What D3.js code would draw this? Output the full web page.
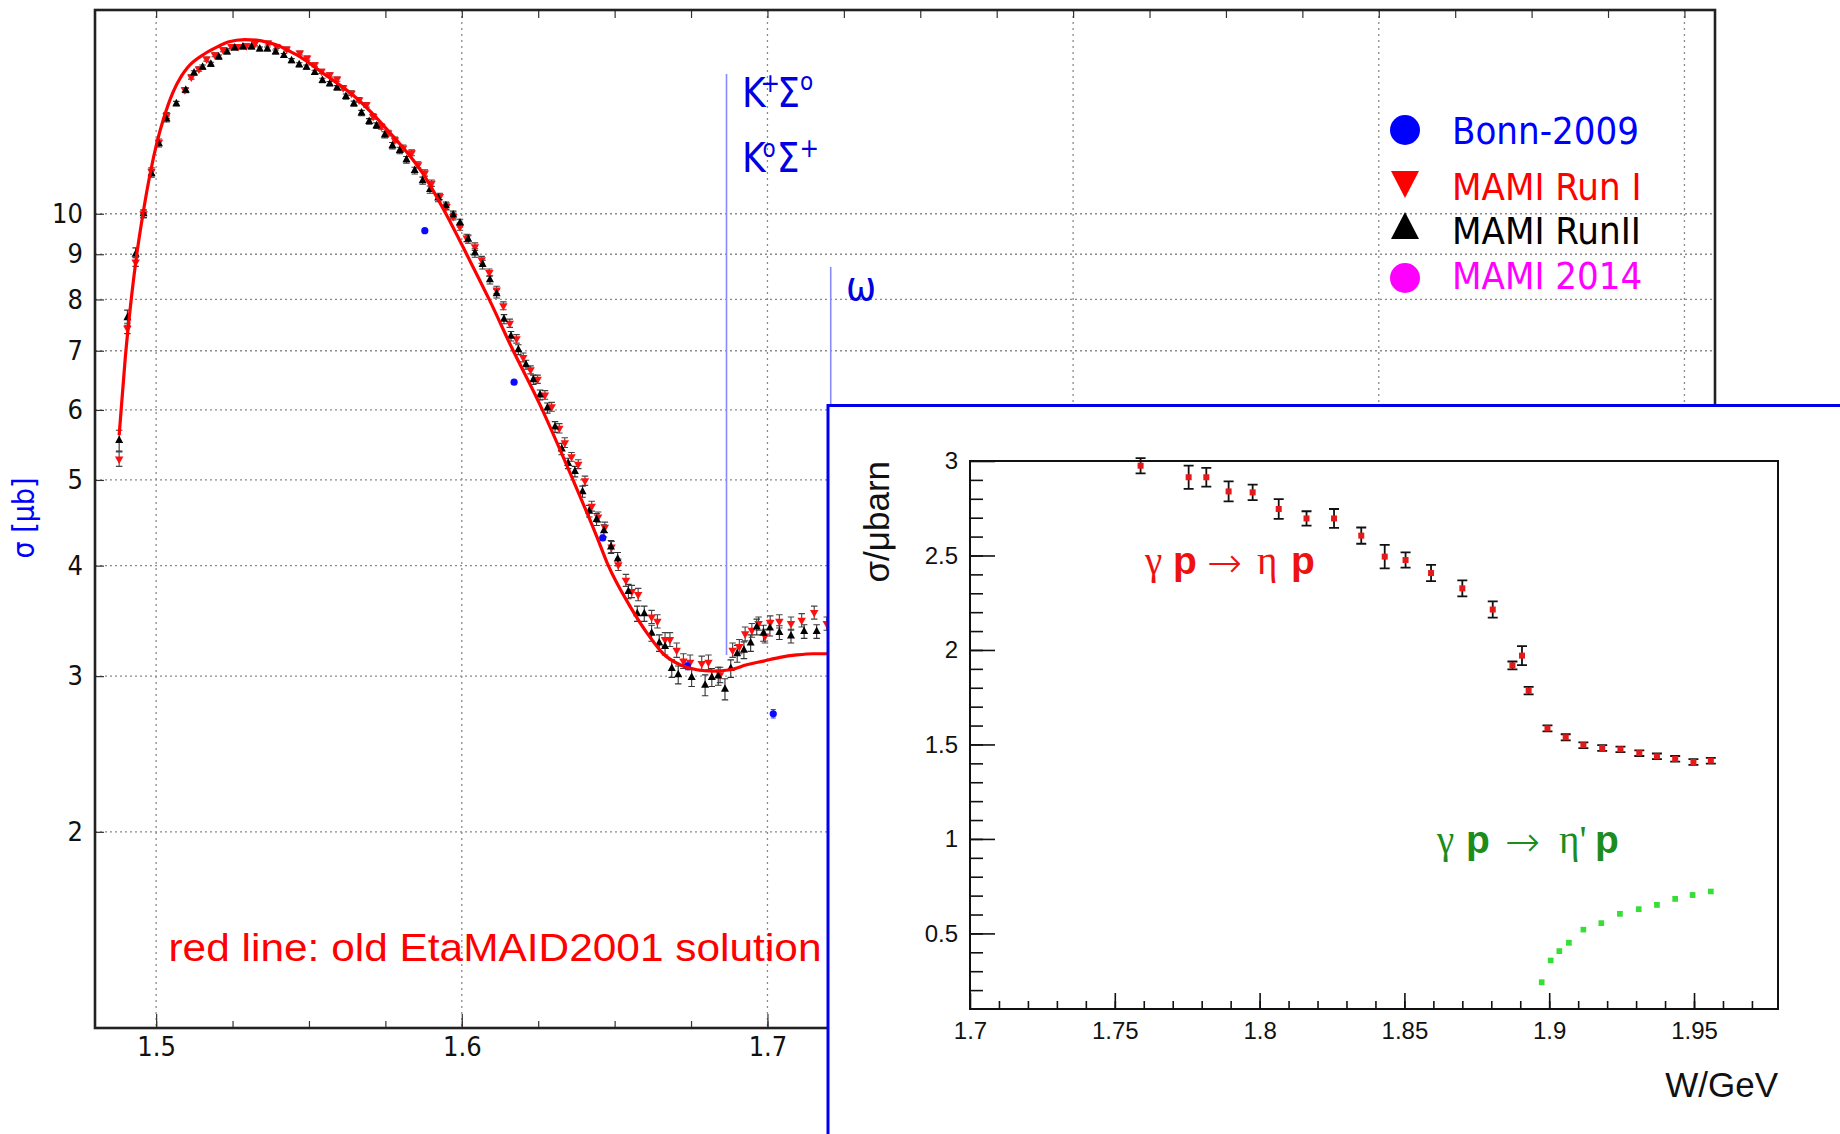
<!DOCTYPE html>
<html>
<head>
<meta charset="utf-8">
<script src="https://cdn.jsdelivr.net/npm/d3@7"></script>
<style>
  body { margin: 0; background: #fff; }
  svg { display: block; }
</style>
</head>
<body>
<svg id="chart" width="1840" height="1134"></svg>
<script>
/* ── data: main plot (W in GeV, sigma in microbarn) ─────────── */

// MAMI Run II (black up-triangles)
const runIIW = [1.4879,1.4906,1.4933,1.4959,1.4985,1.5009,1.5034,1.5066,1.5097,1.5124,
  1.5152,1.5179,1.5205,1.5232,1.5257,1.5284,1.5312,1.5339,1.5364,1.5391,
  1.5418,1.5443,1.5468,1.5492,1.5519,1.5544,1.5568,1.5592,1.5621,1.5647,
  1.5672,1.5697,1.5721,1.5748,1.5773,1.5797,1.5819,1.5846,1.5872,1.5896,
  1.5923,1.5948,1.5972,1.5994,1.6021,1.6043,1.6068,1.6092,1.6114,1.6138,
  1.6161,1.6185,1.621,1.6234,1.6256,1.628,1.6305,1.6327,1.6348,1.637,
  1.6395,1.6417,1.6441,1.6465,1.6488,1.651,1.6545,1.6574,1.6597,1.6621,
  1.6646,1.6665,1.6687,1.6708,1.6752,1.6796,1.6818,1.6839,1.6861,1.688,
  1.6901,1.6923,1.6945,1.6965,1.6987,1.7008,1.7039,1.7077,1.712,1.7161];
const runIISig = [5.54,7.63,9.0,10.0,11.1,12.0,12.8,13.32,13.79,14.43,
  14.65,14.76,15.04,15.24,15.4,15.44,15.44,15.36,15.36,15.24,
  15.1,14.9,14.74,14.65,14.45,14.15,14.03,13.88,13.57,13.32,
  13.0,12.72,12.58,12.28,11.94,11.79,11.51,11.19,10.9,10.65,
  10.42,10.21,9.97,9.76,9.36,9.03,8.76,8.42,8.12,7.6,
  7.27,7.02,6.75,6.49,6.24,6.03,5.74,5.42,5.22,5.11,
  4.85,4.61,4.51,4.38,4.20,4.07,3.74,3.53,3.53,3.355,
  3.27,3.24,3.06,3.01,2.99,2.93,2.99,3.00,2.90,3.06,
  3.18,3.21,3.27,3.41,3.355,3.40,3.36,3.33,3.37,3.37];
const runIIErr = [0.15,0.15,0.15,0.1,0.1,0.1,0.1,0.08,0.08,0.08,
  0.08,0.08,0.08,0.08,0.08,0.08,0.08,0.08,0.08,0.08,
  0.08,0.08,0.08,0.08,0.08,0.08,0.08,0.08,0.09,0.09,
  0.09,0.09,0.09,0.1,0.1,0.1,0.1,0.1,0.1,0.1,
  0.1,0.1,0.1,0.1,0.1,0.1,0.1,0.09,0.09,0.09,
  0.09,0.09,0.08,0.08,0.08,0.08,0.08,0.08,0.07,0.07,
  0.07,0.07,0.07,0.07,0.07,0.07,0.07,0.07,0.07,0.07,
  0.07,0.07,0.07,0.07,0.07,0.08,0.07,0.07,0.08,0.07,
  0.07,0.07,0.07,0.07,0.07,0.07,0.06,0.06,0.06,0.06];

// MAMI Run I (red down-triangles)
const runIW = [1.4879,1.4906,1.4933,1.4959,1.4985,1.5009,1.5034,1.5094,1.5115,1.514,
  1.5165,1.5192,1.5219,1.5246,1.5268,1.5295,1.5323,1.5366,1.5394,1.5427,
  1.547,1.5494,1.5519,1.5541,1.5568,1.5592,1.5612,1.5639,1.5664,1.5688,
  1.571,1.5737,1.5759,1.5781,1.5808,1.5836,1.5857,1.5879,1.5901,1.5928,
  1.595,1.5972,1.5994,1.6016,1.6043,1.6065,1.609,1.6114,1.6136,1.6157,
  1.6179,1.6201,1.6225,1.6248,1.6272,1.6294,1.6319,1.6337,1.6359,1.6381,
  1.6403,1.6425,1.6446,1.6468,1.649,1.6512,1.6537,1.6556,1.6577,1.6621,
  1.664,1.6665,1.6681,1.6703,1.6725,1.6747,1.6785,1.6807,1.6845,1.6886,
  1.6908,1.6927,1.6949,1.6971,1.6992,1.7009,1.7039,1.7077,1.7112,1.7153,1.7194];
const runISig = [5.28,7.42,8.82,10.0,11.17,12.05,12.92,13.81,14.28,14.58,
  14.96,15.13,15.33,15.46,15.46,15.49,15.57,15.6,15.46,15.36,
  15.2,15.0,14.74,14.49,14.36,14.2,13.88,13.69,13.45,13.28,
  12.88,12.55,12.34,12.12,11.87,11.72,11.36,11.12,10.83,10.46,
  10.19,9.93,9.67,9.39,9.18,8.87,8.58,8.2,7.87,7.52,
  7.22,6.88,6.66,6.5,6.24,6.05,5.72,5.51,5.31,5.21,
  4.99,4.67,4.54,4.42,4.2,4.01,3.85,3.74,3.71,3.5,
  3.46,3.3,3.3,3.21,3.12,3.11,3.1,3.11,3.01,3.21,
  3.24,3.35,3.38,3.44,3.33,3.45,3.46,3.44,3.47,3.54,3.44];
const runIErr = [0.1,0.1,0.1,0.1,0.1,0.1,0.1,0.08,0.08,0.08,
  0.08,0.08,0.08,0.08,0.08,0.08,0.08,0.08,0.08,0.08,
  0.08,0.08,0.08,0.08,0.08,0.08,0.08,0.08,0.08,0.08,
  0.09,0.09,0.09,0.09,0.09,0.09,0.09,0.09,0.09,0.09,
  0.09,0.09,0.09,0.09,0.09,0.08,0.08,0.08,0.08,0.08,
  0.08,0.08,0.07,0.07,0.07,0.07,0.07,0.07,0.06,0.06,
  0.06,0.06,0.06,0.06,0.06,0.06,0.06,0.06,0.06,0.06,
  0.06,0.06,0.06,0.06,0.06,0.06,0.06,0.06,0.06,0.06,
  0.06,0.06,0.06,0.06,0.06,0.06,0.06,0.06,0.06,0.06,0.06];

// Bonn-2009 (blue dots)
const bonnW   = [1.5879, 1.6171, 1.6461, 1.6738, 1.7019];
const bonnSig = [9.57, 6.45, 4.30, 3.08, 2.72];
const bonnErr = [0.0, 0.0, 0.03, 0.03, 0.03];

// EtaMAID2001 solution (red line)
const maidW = [1.4879,1.4899,1.4919,1.4935,1.4957,1.4982,1.5003,1.5025,1.5055,
  1.5083,1.5103,1.5159,1.5203,1.5235,1.529,1.5334,1.5366,1.5399,1.5432,
  1.547,1.5546,1.5656,1.5765,1.5873,1.5948,1.602,1.6092,1.6164,1.6256,
  1.6364,1.6441,1.6478,1.655,1.6605,1.6659,1.6714,1.6769,1.6823,1.6878,
  1.6932,1.6987,1.7041,1.7096,1.715,1.7205];
const maidSig = [5.62,6.87,8.03,8.91,10.0,11.17,12.05,12.83,13.72,
  14.32,14.64,15.17,15.46,15.64,15.74,15.71,15.62,15.5,15.3,
  15.06,14.42,13.51,12.35,11.1,10.0,8.94,7.97,7.05,6.08,
  5.0,4.32,4.01,3.6,3.36,3.18,3.09,3.05,3.04,3.05,
  3.09,3.12,3.15,3.17,3.18,3.18];

const mainXTicks = [1.5, 1.6, 1.7, 1.8, 1.9, 2.0];
const mainYTicks = [2, 3, 4, 5, 6, 7, 8, 9, 10];
const thresholds = [1.6866, 1.7207];   // K+Σ0 / K0Σ+ and ω thresholds

const legendNames  = ["Bonn-2009", "MAMI Run I", "MAMI RunII", "MAMI 2014"];
const legendColors = ["#0000ff", "#ff0000", "#000000", "#ff00ff"];
const legendShapes = ["circle", "down", "up", "circle"];

/* ── data: inset ───────────────────────────────────────────── */

const etaW   = [1.7589,1.7755,1.7816,1.7893,1.7976,1.8066,1.8162,1.8257,1.8351,1.8432,
  1.8504,1.8592,1.87,1.8805,1.8873,1.8906,1.8929,1.8994,1.9057,1.9118,
  1.9183,1.9246,1.9311,1.9372,1.9435,1.9498,1.9558];
const etaSig = [2.975,2.914,2.914,2.839,2.834,2.746,2.696,2.696,2.605,2.494,
  2.476,2.407,2.326,2.214,1.918,1.970,1.785,1.585,1.538,1.496,
  1.481,1.474,1.454,1.437,1.424,1.407,1.414];
const etaErr = [0.04,0.062,0.05,0.053,0.041,0.052,0.038,0.05,0.043,0.062,
  0.04,0.043,0.042,0.043,0.021,0.05,0.02,0.016,0.016,0.015,
  0.015,0.015,0.015,0.015,0.015,0.015,0.015];

const etapW   = [1.8974,1.9005,1.9035,1.9068,1.9118,1.918,1.9244,1.9309,1.9372,1.9435,1.9495,1.9558];
const etapSig = [0.241,0.357,0.406,0.451,0.520,0.554,0.604,0.628,0.651,0.683,0.703,0.722];
const etapErr = [0.01,0.01,0.01,0.01,0.01,0.01,0.01,0.01,0.01,0.01,0.01,0.01];

const insetXTicks = [1.7, 1.75, 1.8, 1.85, 1.9, 1.95];
const insetYTicks = [0.5, 1, 1.5, 2, 2.5, 3];

/* ── setup ─────────────────────────────────────────────────── */

const FONT_DV = "'DejaVu Sans Condensed','DejaVu Sans',sans-serif";
const FONT_HV = "'Liberation Sans',Arial,Helvetica,sans-serif";
const FONT_SY = "'Liberation Serif','DejaVu Serif',serif";

const svg = d3.select("#chart");

const x = d3.scaleLinear().domain([1.48, 2.01]).range([95, 1715]);
const y = d3.scaleLog().domain([1.2, 17]).range([1028, 10]);

const [X0, X1] = x.range();
const [Y1, Y0] = y.range();

function triPath(cx, cy, w, h, up) {
  if (up) return `M${cx},${cy - h * 2 / 3}L${cx + w / 2},${cy + h / 3}L${cx - w / 2},${cy + h / 3}Z`;
  return `M${cx},${cy + h * 2 / 3}L${cx + w / 2},${cy - h / 3}L${cx - w / 2},${cy - h / 3}Z`;
}

function errorBars(g, W, S, E, sx, sy, cap, color, width) {
  const pts = W.map((w, i) => ({ w, s: S[i], e: E[i] })).filter(d => d.e > 0);
  const eg = g.append("g").attr("stroke", color).attr("stroke-width", width).attr("fill", "none");
  eg.selectAll("path").data(pts).join("path")
    .attr("d", d => {
      const cx = sx(d.w), ya = sy(d.s - d.e), yb = sy(d.s + d.e);
      return `M${cx},${ya}V${yb}M${cx - cap / 2},${ya}H${cx + cap / 2}M${cx - cap / 2},${yb}H${cx + cap / 2}`;
    });
}

/* ── main plot ─────────────────────────────────────────────── */

const main = svg.append("g");

main.append("g").selectAll("line").data(mainXTicks).join("line")
  .attr("x1", d => x(d)).attr("x2", d => x(d))
  .attr("y1", Y0).attr("y2", Y1)
  .attr("stroke", "#8a8a8a").attr("stroke-width", 1.3).attr("stroke-dasharray", "2,4");

main.append("g").selectAll("line").data(mainYTicks).join("line")
  .attr("x1", X0).attr("x2", X1)
  .attr("y1", d => y(d)).attr("y2", d => y(d))
  .attr("stroke", "#8a8a8a").attr("stroke-width", 1.3).attr("stroke-dasharray", "2,3");

// axes (inward ticks)
const xAxisB = main.append("g").attr("transform", `translate(0,${Y1})`)
  .call(d3.axisBottom(x).tickValues(mainXTicks).tickFormat(d3.format(".1f")).tickSize(-14).tickPadding(9));
const xAxisBm = main.append("g").attr("transform", `translate(0,${Y1})`)
  .call(d3.axisBottom(x).tickValues(d3.range(1.5, 2.01, 0.025)).tickFormat("").tickSize(-7));
const xAxisT = main.append("g").attr("transform", `translate(0,${Y0})`)
  .call(d3.axisTop(x).tickValues(d3.range(1.5, 2.01, 0.025)).tickFormat("").tickSize(-8));
const yAxisL = main.append("g").attr("transform", `translate(${X0},0)`)
  .call(d3.axisLeft(y).tickValues(mainYTicks).tickFormat(d3.format("d")).tickSize(-9).tickPadding(12));

[xAxisB, xAxisBm, xAxisT, yAxisL].forEach(a => {
  a.select(".domain").remove();
  a.selectAll(".tick line").attr("stroke", "#333").attr("stroke-width", 1.2);
  a.selectAll("text").attr("font-family", FONT_DV).attr("font-stretch", "condensed")
    .attr("font-size", 27).attr("fill", "#111");
});

// data
main.append("clipPath").attr("id", "clipMain")
  .append("rect").attr("x", X0).attr("y", Y0).attr("width", X1 - X0).attr("height", Y1 - Y0);
const dataG = main.append("g").attr("clip-path", "url(#clipMain)");

errorBars(dataG, runIW, runISig, runIErr, x, y, 6.5, "#444", 1.1);
errorBars(dataG, runIIW, runIISig, runIIErr, x, y, 6.5, "#333", 1.1);

dataG.append("g").selectAll("path").data(runIW.map((w, i) => [w, runISig[i]])).join("path")
  .attr("d", d => triPath(x(d[0]), y(d[1]), 8.5, 7.5, false))
  .attr("fill", "#ff1010");

dataG.append("g").selectAll("path").data(runIIW.map((w, i) => [w, runIISig[i]])).join("path")
  .attr("d", d => triPath(x(d[0]), y(d[1]), 8, 7.5, true))
  .attr("fill", "#000");

errorBars(dataG, bonnW, bonnSig, bonnErr, x, y, 5, "#3333ff", 1);
dataG.append("g").selectAll("circle").data(bonnW.map((w, i) => [w, bonnSig[i]])).join("circle")
  .attr("cx", d => x(d[0])).attr("cy", d => y(d[1])).attr("r", 3.6)
  .attr("fill", "#0a0aff");

dataG.append("path")
  .datum(maidW.map((w, i) => [w, maidSig[i]]))
  .attr("d", d3.line().curve(d3.curveMonotoneX).x(d => x(d[0])).y(d => y(d[1])))
  .attr("fill", "none").attr("stroke", "#f00").attr("stroke-width", 3.2)
  .attr("stroke-linejoin", "round");

// frame
main.append("rect").attr("x", X0).attr("y", Y0).attr("width", X1 - X0).attr("height", Y1 - Y0)
  .attr("fill", "none").attr("stroke", "#222").attr("stroke-width", 2.6);

// threshold lines
main.append("line").attr("x1", x(thresholds[0])).attr("x2", x(thresholds[0]))
  .attr("y1", 74).attr("y2", 655).attr("stroke", "#8a8aff").attr("stroke-width", 1.6);
main.append("line").attr("x1", x(thresholds[1])).attr("x2", x(thresholds[1]))
  .attr("y1", 267).attr("y2", 700).attr("stroke", "#8a8aff").attr("stroke-width", 1.6);

const annot = main.append("g").attr("font-family", FONT_DV).attr("font-stretch", "condensed")
  .attr("fill", "#0000e0").attr("font-size", 40);

const k1 = annot.append("text").attr("x", 742).attr("y", 107);
k1.append("tspan").text("K");
k1.append("tspan").attr("font-size", 26).attr("dx", -5).attr("dy", -15).text("+");
k1.append("tspan").attr("dx", -3).attr("dy", 15).text("Σ");
k1.append("tspan").attr("font-size", 24).attr("dy", -17).text("o");

const k2 = annot.append("text").attr("x", 742).attr("y", 172);
k2.append("tspan").text("K");
k2.append("tspan").attr("font-size", 24).attr("dx", -3).attr("dy", -15).text("o");
k2.append("tspan").attr("dx", 1).attr("dy", 15).text("Σ");
k2.append("tspan").attr("font-size", 26).attr("dy", -15).text("+");

annot.append("text").attr("x", 846).attr("y", 300).text("ω");

// legend
const legMarkY = [130, 180, 230, 278];
const legTextY = [130, 186, 230, 275];
const leg = main.append("g");
legendNames.forEach((name, i) => {
  const cx = 1405;
  if (legendShapes[i] === "circle") {
    leg.append("circle").attr("cx", cx).attr("cy", legMarkY[i]).attr("r", 15).attr("fill", legendColors[i]);
  } else {
    leg.append("path").attr("d", triPath(cx, legMarkY[i], 28, 27, legendShapes[i] === "up"))
      .attr("fill", legendColors[i]);
  }
  leg.append("text").attr("x", 1452).attr("y", legTextY[i]).attr("dy", "0.36em")
    .attr("font-family", FONT_DV).attr("font-stretch", "condensed").attr("font-size", 38)
    .attr("fill", legendColors[i]).text(name);
});

// axis title
main.append("text").attr("transform", "translate(34,518) rotate(-90)")
  .attr("text-anchor", "middle").attr("font-family", FONT_DV).attr("font-stretch", "condensed")
  .attr("font-size", 30).attr("fill", "#0000ff").text("σ [μb]");

main.append("text").attr("x", 168.5).attr("y", 961)
  .attr("font-family", FONT_HV).attr("font-size", 39).attr("fill", "#ff0000")
  .attr("textLength", 653).attr("lengthAdjust", "spacingAndGlyphs")
  .text("red line: old EtaMAID2001 solution");

/* ── inset ─────────────────────────────────────────────────── */

const inset = svg.append("g");
inset.append("rect").attr("x", 828).attr("y", 405.5).attr("width", 1100).attr("height", 800)
  .attr("fill", "#fff").attr("stroke", "#0000ee").attr("stroke-width", 3);

const xi = d3.scaleLinear().domain([1.7, 1.979]).range([970, 1778]);
const yi = d3.scaleLinear().domain([0.1, 3]).range([1009, 461]);
const [IX0, IX1] = xi.range();
const [IY1, IY0] = yi.range();

const ixAxis = inset.append("g").attr("transform", `translate(0,${IY1})`)
  .call(d3.axisBottom(xi).tickValues(insetXTicks).tickFormat(d3.format(".2~f")).tickSize(-16).tickPadding(13));
const ixAxisM = inset.append("g").attr("transform", `translate(0,${IY1})`)
  .call(d3.axisBottom(xi).tickValues(d3.range(1.71, 1.975, 0.01)).tickFormat("").tickSize(-8));
const iyAxis = inset.append("g").attr("transform", `translate(${IX0},0)`)
  .call(d3.axisLeft(yi).tickValues(insetYTicks).tickFormat(d3.format(".1~f")).tickSize(-25).tickPadding(12));
const iyAxisM = inset.append("g").attr("transform", `translate(${IX0},0)`)
  .call(d3.axisLeft(yi).tickValues(d3.range(0.2, 2.95, 0.1)).tickFormat("").tickSize(-13));

[ixAxis, ixAxisM, iyAxis, iyAxisM].forEach(a => {
  a.select(".domain").remove();
  a.selectAll(".tick line").attr("stroke", "#111").attr("stroke-width", 1.6);
  a.selectAll("text").attr("font-family", FONT_HV).attr("font-size", 24).attr("fill", "#111");
});

inset.append("clipPath").attr("id", "clipInset")
  .append("rect").attr("x", IX0).attr("y", IY0 - 4).attr("width", IX1 - IX0).attr("height", IY1 - IY0 + 4);
const insetData = inset.append("g").attr("clip-path", "url(#clipInset)");

errorBars(insetData, etaW, etaSig, etaErr, xi, yi, 10, "#111", 1.8);
insetData.append("g").selectAll("rect").data(etaW.map((w, i) => [w, etaSig[i]])).join("rect")
  .attr("x", d => xi(d[0]) - 3).attr("y", d => yi(d[1]) - 3)
  .attr("width", 6).attr("height", 6).attr("fill", "#e81818");

errorBars(insetData, etapW, etapSig, etapErr, xi, yi, 5, "#1a9a1a", 1.2);
insetData.append("g").selectAll("rect").data(etapW.map((w, i) => [w, etapSig[i]])).join("rect")
  .attr("x", d => xi(d[0]) - 2.8).attr("y", d => yi(d[1]) - 2.8)
  .attr("width", 5.6).attr("height", 5.6).attr("fill", "#33e033");

inset.append("rect").attr("x", IX0).attr("y", IY0).attr("width", IX1 - IX0).attr("height", IY1 - IY0)
  .attr("fill", "none").attr("stroke", "#111").attr("stroke-width", 2);

inset.append("text").attr("transform", `translate(889,${IY0}) rotate(-90)`)
  .attr("text-anchor", "end").attr("font-family", FONT_HV).attr("font-size", 35)
  .attr("fill", "#111").text("σ/μbarn");

inset.append("text").attr("x", IX1).attr("y", 1097)
  .attr("text-anchor", "end").attr("font-family", FONT_HV).attr("font-size", 35)
  .attr("fill", "#111").text("W/GeV");

// reaction labels: glyph start positions [γ, p, →, η, p]
function reaction(xs, baseY, color, meson) {
  const t = inset.append("text").attr("y", baseY).attr("font-size", 39).attr("fill", color);
  t.append("tspan").attr("x", xs[0]).attr("font-family", FONT_SY).text("γ");
  t.append("tspan").attr("x", xs[1]).attr("font-family", FONT_HV).attr("font-weight", "bold").text("p");
  t.append("tspan").attr("x", xs[2]).attr("dy", 3).attr("font-family", "'DejaVu Sans',sans-serif")
    .attr("font-size", 42).attr("font-weight", "200").text("→");
  t.append("tspan").attr("x", xs[3]).attr("dy", -3).attr("font-family", FONT_SY).text(meson);
  t.append("tspan").attr("x", xs[4]).attr("font-family", FONT_HV).attr("font-weight", "bold").text("p");
}
reaction([1145, 1173, 1207, 1257, 1291], 574, "#ee1111", "η");
reaction([1437, 1466, 1505, 1559, 1595], 853, "#1c8c1c", "η'");
</script>
</body>
</html>
